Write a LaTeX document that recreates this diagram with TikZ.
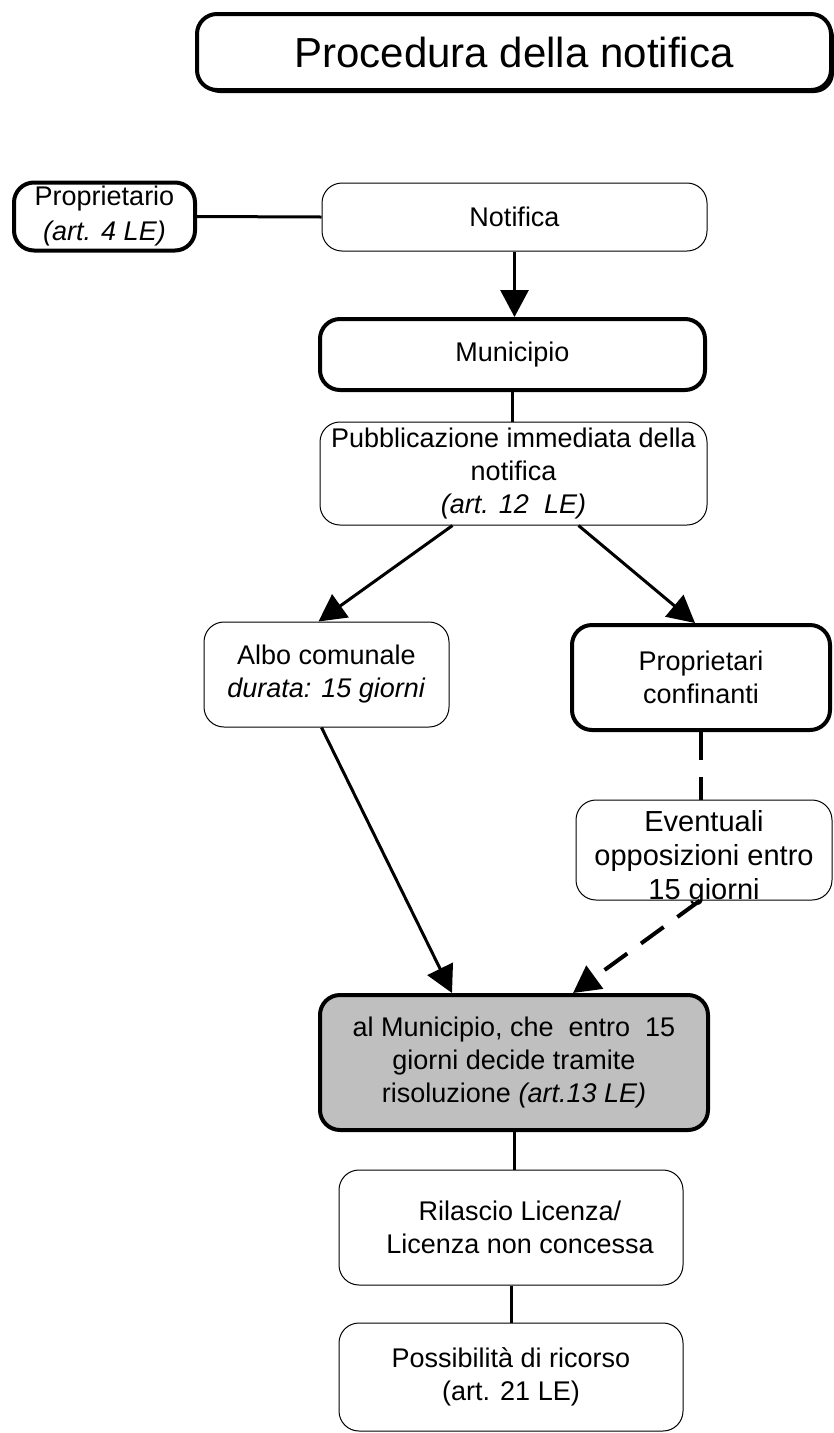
\documentclass[tikz,border=0pt]{standalone}
\usepackage{fontspec}
\setmainfont{Liberation Sans}
\usepackage{tikz}
\usetikzlibrary{arrows.meta}
\usetikzlibrary{positioning}
\usetikzlibrary{shadows}
\definecolor{mgrey}{rgb}{0.75, 0.75, 0.75}

\begin{document}
\begin{tikzpicture}[x=1pt, y=-1pt,
    box/.style={draw, fill=white, line width=1pt, rounded corners=20pt, align=center,
      inner sep=0pt, font=\fontsize{27}{33}\selectfont},
    boldbox/.style={box, line width=4pt},
    flow/.style={line width=3pt, -{Triangle[width=28pt, length=27pt]}},
    link/.style={line width=3pt},
    dashlink/.style={line width=4pt, dash pattern=on 28pt off 17pt}]

    \useasboundingbox (0, 0) rectangle (834, 1433);

    \node [boldbox, minimum width=634pt, minimum height=76pt, font=\fontsize{42}{50}\selectfont,
      drop shadow={shadow xshift=3pt, shadow yshift=-3pt, fill=black, opacity=1}] (title) at (514, 52) {Procedura della notifica};

    \node [boldbox, minimum width=181pt, minimum height=68pt, font=\fontsize{27}{35}\selectfont] (prop) at (104.5, 216.5) {Proprietario\\\textit{(art. 4 LE)}};
    \node [box, minimum width=385pt, minimum height=68pt] (notif) at (514.5, 217) {Notifica};
    \node [boldbox, minimum width=385pt, minimum height=71pt] (muni) at (512.5, 354.5) {Municipio};
    \node [box, minimum width=387pt, minimum height=103pt] (pub) at (513.5, 473.5) {Pubblicazione immediata della\\notifica\\\textit{(art. 12\ \ LE)}};

    \node [box, minimum width=245pt, minimum height=105pt] (albo) at (326.5, 674.5) {Albo comunale\\\textit{durata: 15 giorni}};
    \node [boldbox, minimum width=258pt, minimum height=105pt] (conf) at (701, 677.5) {Proprietari\\confinanti};
    \node [box, minimum width=256pt, minimum height=100pt,
      label={[align=center, font=\fontsize{29}{34}\selectfont, yshift=-8pt]center:Eventuali\\opposizioni entro\\15 giorni}] (event) at (704, 850) {};

    \node [boldbox, fill=mgrey, minimum width=388pt, minimum height=135pt] (dec) at (514, 1062.5) {al Municipio, che\ \ entro\ \ 15\\giorni decide tramite\\risoluzione \textit{(art.13 LE)}};
    \node [box, minimum width=344pt, minimum height=115pt] (ril) at (511, 1227.5) {\hspace*{18pt}Rilascio Licenza/\\\hspace*{18pt}Licenza non concessa};
    \node [box, minimum width=344pt, minimum height=108pt] (ric) at (511, 1377) {Possibilità di ricorso\\(art. 21 LE)};

    \draw [link] (prop.east) -- (notif.west);
    \draw [flow] (notif.south) -- (notif.south |- muni.north);
    \draw [link] (muni.south) -- (muni.south |- pub.north);
    \draw [flow] ([xshift=-61pt]pub.south) -- ([xshift=-8pt]albo.north);
    \draw [flow] ([xshift=65pt]pub.south) -- ([xshift=-6pt]conf.north);
    \draw [dashlink] (conf.south) -- (conf.south |- event.north);
    \draw [flow] ([xshift=-5pt]albo.south) -- ([xshift=-62pt]dec.north);
    \draw [flow, dashlink] ([xshift=-4pt]event.south) -- ([xshift=59pt]dec.north);
    \draw [link] (dec.south) -- (dec.south |- ril.north);
    \draw [link] (ril.south) -- (ril.south |- ric.north);
\end{tikzpicture}
\end{document}
